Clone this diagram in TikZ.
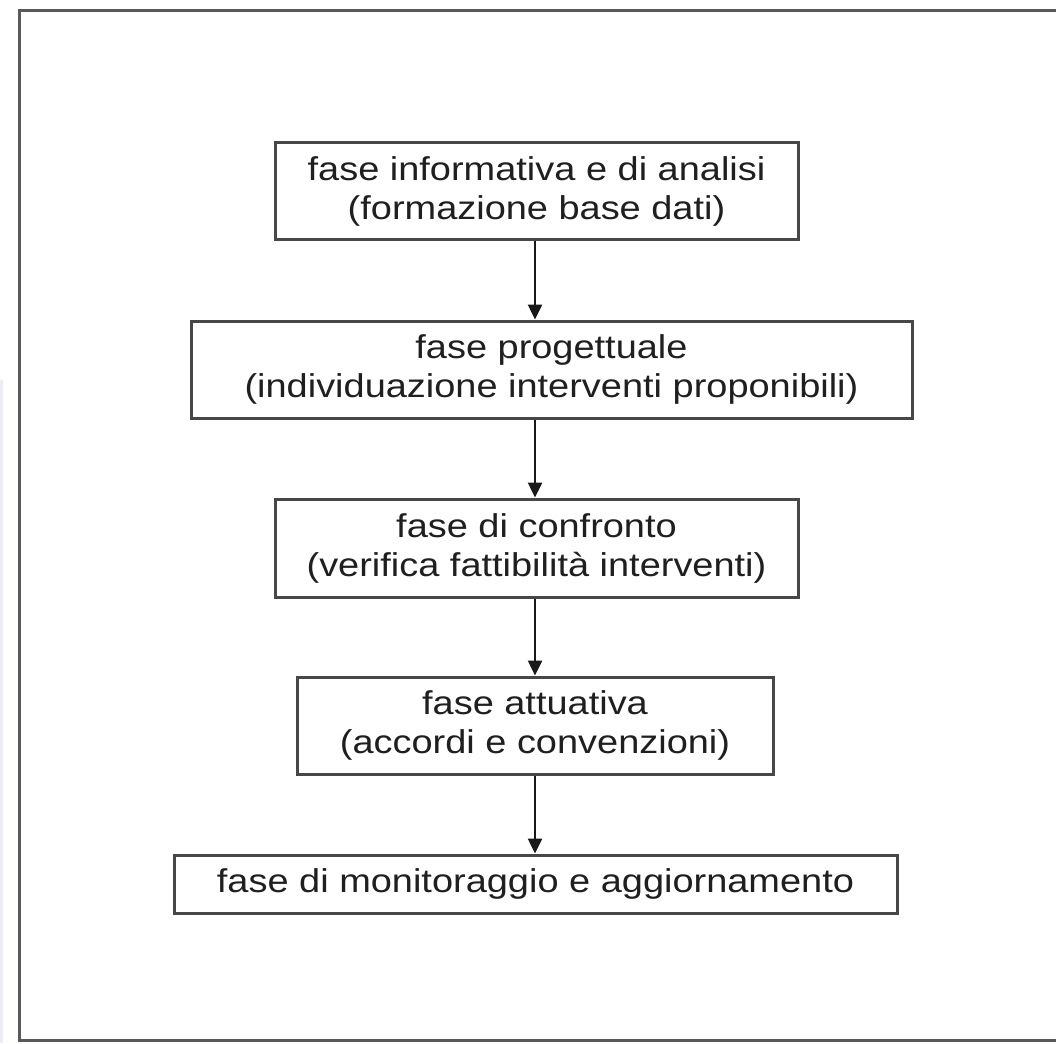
\documentclass[tikz,border=0pt]{standalone}
\usepackage{fontspec}
\usepackage{graphicx}
\setmainfont{Liberation Sans}
\usetikzlibrary{arrows.meta}
\newcommand{\sxl}[1]{\scalebox{1.15}[1]{#1}}
\begin{document}
\begin{tikzpicture}[x=1pt,y=-1pt,
  phase/.style={draw=black!72, line width=3pt, fill=white, inner sep=0pt,
    align=center, text=black!88, font=\fontsize{33}{39}\selectfont},
  arr/.style={line width=2.5pt, draw=black!90, -{Triangle[width=14pt,length=15pt]}},
  frame/.style={draw=black!65, line width=3pt}]
\useasboundingbox (0,0) rectangle (1056,1043);
\fill[white] (0,0) rectangle (1056,1043);
\fill[blue!25!gray!12] (0,380) rectangle (3,1043);
\draw[frame] (1062,11) -- (19,11) -- (19,1040) -- (1062,1040);
\node[phase, minimum width=523pt, minimum height=96pt] (b1) at (536.5,191)
  {\sxl{fase informativa e di analisi}\\\sxl{(formazione base dati)}};
\node[phase, minimum width=721pt, minimum height=97pt] (b2) at (551.5,369.5)
  {\sxl{fase progettuale}\\\sxl{(individuazione interventi proponibili)}};
\node[phase, minimum width=523pt, minimum height=98pt] (b3) at (536.5,548)
  {\sxl{fase di confronto}\\\sxl{(verifica fattibilità interventi)}};
\node[phase, minimum width=476pt, minimum height=97pt] (b4) at (535,725.5)
  {\sxl{fase attuativa}\\\sxl{(accordi e convenzioni)}};
\node[phase, minimum width=723pt, minimum height=58pt] (b5) at (535.5,884)
  {\sxl{fase di monitoraggio e aggiornamento}};
\draw[arr] (b1.south -| b4.center) -- (b2.north -| b4.center);
\draw[arr] (b2.south -| b4.center) -- (b3.north -| b4.center);
\draw[arr] (b3.south -| b4.center) -- (b4.north);
\draw[arr] (b4.south) -- (b5.north -| b4.center);
\end{tikzpicture}
\end{document}
